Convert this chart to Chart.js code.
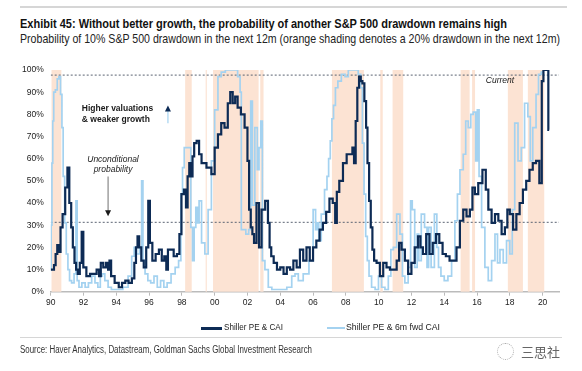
<!DOCTYPE html>
<html>
<head>
<meta charset="utf-8">
<script src="https://cdn.jsdelivr.net/npm/chart.js@4.4.0/dist/chart.umd.min.js"></script>
<style>
  body { margin: 0; background: #fff; width: 582px; height: 371px; position: relative; overflow: hidden;
         font-family: "Liberation Sans", Arial, sans-serif; }
  #wrap { position: absolute; left: 0; top: 0; width: 582px; height: 371px; }
  .fit { position: absolute; white-space: nowrap; transform-origin: 0 50%; line-height: 1; }
  .rule { position: absolute; left: 20px; width: 547px; height: 2px; background: #d6d6d6; }
  .narrow { font-family: "Liberation Sans Narrow", "Arial Narrow", "Liberation Sans", sans-serif; }
  .key { position: absolute; height: 2px; }
</style>
</head>
<body>
<div class="rule" style="top:6px"></div>
<div class="fit narrow" data-w="487" style="left:20px;top:17px;font-size:13px;font-weight:bold;color:#111">Exhibit 45: Without better growth, the probability of another S&amp;P 500 drawdown remains high</div>
<div class="fit narrow" data-w="540" style="left:20px;top:32px;font-size:13px;color:#222">Probability of 10% S&amp;P 500 drawdown in the next 12m (orange shading denotes a 20% drawdown in the next 12m)</div>

<div id="wrap"><canvas id="chart" width="582" height="371"></canvas></div>

<div class="key" style="left:201px;top:327px;width:21px;background:#0d2b55;height:2.5px"></div>
<div class="fit" data-w="59" style="left:224px;top:323px;font-size:8.5px;color:#222">Shiller PE &amp; CAI</div>
<div class="key" style="left:327px;top:327px;width:18px;background:#a4d2f0"></div>
<div class="fit" data-w="94" style="left:346px;top:323px;font-size:8.5px;color:#222">Shiller PE &amp; 6m fwd CAI</div>

<div class="rule" style="top:337px;height:1px;width:542px"></div>
<div class="fit narrow" data-w="292" style="left:20px;top:345px;font-size:10px;color:#333">Source: Haver Analytics, Datastream, Goldman Sachs Global Investment Research</div>
<div style="position:absolute;left:497px;top:343px;width:15px;height:15px;border:1px dotted #aaa;border-radius:50%"></div>
<div style="position:absolute;left:521px;top:342px;font-size:13px;color:#666;font-family:'Noto Sans CJK SC',sans-serif">三思社</div>

<script>
// x axis ticks and y axis ticks
const xTickYears = [1990, 1992, 1994, 1996, 1998, 2000, 2002, 2004, 2006, 2008, 2010, 2012, 2014, 2016, 2018, 2020];
const yTickValues = [0, 10, 20, 30, 40, 50, 60, 70, 80, 90, 100];

// Shiller PE & CAI (dark)
const darkX = [1990.0, 1990.15, 1990.25, 1990.35, 1990.45, 1990.55, 1990.65, 1990.8, 1990.97, 1991.07, 1991.2, 1991.3, 1991.4, 1991.5,
  1991.6, 1991.7, 1991.85, 1991.93, 1992.05, 1992.3, 1992.5, 1992.7, 1992.9, 1993.0, 1993.11, 1993.3, 1993.45, 1993.55, 1993.62,
  1993.75, 1994.05, 1994.25, 1994.45, 1994.65, 1994.85, 1995.05, 1995.15, 1995.25, 1995.34, 1995.45, 1995.6, 1995.75, 1995.9,
  1996.0, 1996.1, 1996.3, 1996.5, 1996.7, 1996.85, 1997.0, 1997.1, 1997.2, 1997.4, 1997.6, 1997.8, 1997.9, 1998.05, 1998.2,
  1998.3, 1998.4, 1998.5, 1998.6, 1998.7, 1998.8, 1999.0, 1999.1, 1999.3, 1999.7, 1999.9, 2000.1, 2000.3, 2000.5, 2000.7,
  2000.9, 2001.0, 2001.2, 2001.3, 2001.5, 2001.7, 2001.95, 2002.05, 2002.15, 2002.25, 2002.35, 2002.45, 2002.65, 2002.76,
  2002.96, 2003.2, 2003.3, 2003.4, 2003.5, 2003.7, 2003.9, 2004.1, 2004.3, 2004.5, 2004.7, 2004.9, 2005.1, 2005.3, 2005.5,
  2005.7, 2005.9, 2006.1, 2006.3, 2006.5, 2006.7, 2006.9, 2007.1, 2007.3, 2007.4, 2007.5, 2007.7, 2007.95, 2008.15, 2008.35,
  2008.45, 2008.55, 2008.65, 2008.75, 2008.86, 2008.96, 2009.06, 2009.2, 2009.27, 2009.37, 2009.47, 2009.57, 2009.67, 2009.78,
  2009.97, 2010.18, 2010.38, 2010.58, 2010.8, 2011.0, 2011.2, 2011.3, 2011.5, 2011.7, 2011.9, 2012.1, 2012.3, 2012.5, 2012.6,
  2012.8, 2013.0, 2013.2, 2013.4, 2013.6, 2013.8, 2014.0, 2014.2, 2014.45, 2014.65, 2014.85, 2015.06, 2015.26, 2015.46,
  2015.67, 2015.77, 2015.97, 2016.18, 2016.48, 2016.59, 2016.79, 2016.99, 2017.2, 2017.4, 2017.6, 2017.8, 2017.9, 2018.1,
  2018.3, 2018.5, 2018.7, 2018.9, 2019.1, 2019.3, 2019.5, 2019.7, 2019.9, 2020.0, 2020.1, 2020.3, 2020.4];
const darkY = [10, 10, 12, 17, 21, 18, 29, 35, 47, 56, 40, 29, 20, 13,
  10, 8, 13, 27, 11, 7, 8, 8, 10, 7, 13, 11, 13, 10, 14,
  7, 4, 2, 4, 5, 4, 6, 13, 20, 25, 20, 14, 11, 20,
  41, 22, 14, 17, 19, 14, 16, 10, 19, 19, 16, 17, 26, 44, 46,
  38, 52, 58, 52, 61, 67, 68, 62, 58, 56, 53, 65, 71, 76, 74,
  85, 90, 85, 88, 83, 80, 74, 59, 37, 29, 26, 22, 40, 20,
  37, 41, 31, 20, 16, 13, 10, 11, 8, 11, 10, 14, 11, 19, 14,
  20, 14, 20, 23, 28, 31, 36, 42, 40, 31, 45, 50, 58, 62, 62,
  65, 58, 77, 92, 97, 95, 94, 86, 74, 58, 41, 29, 19, 14,
  13, 7, 13, 11, 10, 10, 14, 22, 19, 14, 8, 13, 20, 25, 20,
  17, 26, 17, 22, 26, 22, 17, 16, 14, 14, 20, 32, 37, 34,
  37, 47, 44, 49, 55, 46, 37, 31, 35, 32, 26, 29, 37, 35,
  28, 35, 40, 46, 50, 55, 58, 59, 49, 95, 100, 100, 73];

// Shiller PE & 6m fwd CAI (light)
const lightX = [1990.0, 1990.05, 1990.1, 1990.15, 1990.22, 1990.35, 1990.45, 1990.55, 1990.65, 1990.72, 1990.8, 1990.9, 1991.0,
  1991.1, 1991.2, 1991.35, 1991.5, 1991.58, 1991.65, 1991.8, 1992.0, 1992.2, 1992.4, 1992.6, 1992.8, 1992.95, 1993.1, 1993.2,
  1993.4, 1993.6, 1993.8, 1994.2, 1994.6, 1994.84, 1995.04, 1995.14, 1995.34, 1995.5, 1995.59, 1995.66, 1995.85, 1996.0,
  1996.2, 1996.4, 1996.6, 1996.8, 1997.0, 1997.2, 1997.48, 1997.7, 1997.9, 1997.98, 1998.1, 1998.19, 1998.49, 1998.6, 1998.7,
  1998.8, 1998.9, 1999.0, 1999.1, 1999.3, 1999.5, 1999.7, 1999.9, 2000.1, 2000.3, 2000.5, 2000.8, 2001.3, 2001.5, 2001.6,
  2001.65, 2001.8, 2002.0, 2002.15, 2002.25, 2002.35, 2002.55, 2002.65, 2002.76, 2002.86, 2002.96, 2003.17, 2003.37, 2003.6,
  2004.2, 2004.6, 2004.8, 2005.0, 2005.2, 2005.6, 2005.9, 2006.11, 2006.2, 2006.3, 2006.4, 2006.6, 2006.8, 2006.9, 2007.0,
  2007.1, 2007.2, 2007.3, 2007.43, 2007.6, 2007.85, 2008.05, 2008.25, 2008.65, 2008.86, 2008.96, 2009.06, 2009.16, 2009.26,
  2009.36, 2009.47, 2009.67, 2009.9, 2010.08, 2010.28, 2010.49, 2010.69, 2010.8, 2011.0, 2011.2, 2011.4, 2011.5, 2011.7,
  2011.9, 2012.0, 2012.1, 2012.3, 2012.4, 2012.5, 2012.7, 2012.9, 2013.0, 2013.1, 2013.3, 2013.5, 2013.6, 2013.7, 2013.9,
  2014.1, 2014.35, 2014.55, 2014.75, 2014.86, 2015.06, 2015.26, 2015.36, 2015.57, 2015.67, 2015.87, 2015.97, 2016.07,
  2016.18, 2016.38, 2016.58, 2016.79, 2016.99, 2017.2, 2017.3, 2017.5, 2017.7, 2017.9, 2018.1, 2018.2, 2018.4, 2018.6,
  2018.8, 2019.0, 2019.2, 2019.3, 2019.5, 2019.7, 2019.8, 2020.04];
const lightY = [10, 30, 58, 77, 90, 91, 96, 97, 89, 74, 52, 31, 17,
  10, 5, 4, 8, 41, 5, 2, 4, 2, 4, 7, 4, 2, 7, 8,
  5, 2, 1, 1, 2, 7, 16, 20, 17, 20, 50, 14, 8, 5,
  4, 7, 2, 5, 2, 4, 8, 11, 14, 44, 56, 65, 65, 29, 14,
  29, 38, 31, 41, 22, 17, 37, 59, 82, 97, 99, 100, 100, 97, 90,
  28, 28, 26, 28, 86, 39, 74, 55, 65, 77, 14, 10, 2, 1,
  1, 2, 7, 8, 5, 8, 14, 37, 28, 31, 23, 35, 46, 52, 60,
  68, 78, 84, 92, 95, 98, 97, 100, 100, 98, 92, 67, 44, 25,
  14, 7, 2, 1, 7, 2, 1, 7, 19, 20, 35, 26, 7, 4,
  11, 41, 37, 11, 26, 14, 35, 29, 11, 29, 11, 35, 20, 11, 7,
  5, 7, 14, 32, 44, 55, 62, 77, 74, 80, 81, 59, 82,
  52, 29, 11, 5, 14, 26, 13, 19, 13, 23, 17, 37, 76, 59,
  65, 85, 79, 59, 74, 89, 98, 99];

// periods with a 20% drawdown in the next 12m
const bandStart = [1990.05, 1998.2, 1999.45, 1999.9, 2002.78, 2007.15, 2010.1, 2010.85, 2015.0, 2015.7, 2017.88, 2019.1];
const bandEnd = [1990.65, 1998.6, 1999.52, 2002.68, 2002.98, 2009.1, 2010.25, 2011.5, 2015.55, 2015.88, 2018.8, 2020.1];

// reference levels
const currentLevel = 97.7;
const unconditionalLevel = 31.3;

const toPoints = (xs, ys) => xs.map((x, i) => ({ x: x, y: ys[i] }));

const bands = {
  id: 'bands',
  beforeDatasetsDraw(chart) {
    const { ctx, chartArea: a, scales: { x } } = chart;
    ctx.save();
    ctx.fillStyle = '#fce3d3';
    bandStart.forEach((s, i) => {
      const x0 = x.getPixelForValue(s);
      const x1 = x.getPixelForValue(bandEnd[i]);
      ctx.fillRect(x0, a.top, x1 - x0, a.bottom - a.top);
    });
    ctx.restore();
  }
};

function arrow(ctx, x, yFrom, yTo, shaft, head) {
  const dir = yTo > yFrom ? 1 : -1;
  ctx.strokeStyle = shaft;
  ctx.lineWidth = 1.2;
  ctx.beginPath();
  ctx.moveTo(x, yFrom);
  ctx.lineTo(x, yTo - dir * 4);
  ctx.stroke();
  ctx.fillStyle = head;
  ctx.beginPath();
  ctx.moveTo(x, yTo);
  ctx.lineTo(x - 3, yTo - dir * 6);
  ctx.lineTo(x + 3, yTo - dir * 6);
  ctx.closePath();
  ctx.fill();
}

const notes = {
  id: 'notes',
  afterDatasetsDraw(chart) {
    const { ctx, scales: { x, y } } = chart;
    ctx.save();
    ctx.fillStyle = '#1a1a1a';
    ctx.textBaseline = 'middle';
    ctx.font = 'bold 8.5px "Liberation Sans", Arial, sans-serif';
    ctx.textAlign = 'left';
    ctx.fillText('Higher valuations', x.getPixelForValue(1991.9), y.getPixelForValue(82.4));
    ctx.fillText('& weaker growth', x.getPixelForValue(1991.9), y.getPixelForValue(77.4));
    ctx.font = 'italic 8.5px "Liberation Sans", Arial, sans-serif';
    ctx.textAlign = 'center';
    ctx.fillText('Unconditional', x.getPixelForValue(1993.8), y.getPixelForValue(59.4));
    ctx.fillText('probability', x.getPixelForValue(1993.8), y.getPixelForValue(54.9));
    ctx.fillText('Current', x.getPixelForValue(2017.4), y.getPixelForValue(95));
    arrow(ctx, x.getPixelForValue(1997.15), y.getPixelForValue(76), y.getPixelForValue(84), '#a4d2f0', '#0d2b55');
    arrow(ctx, x.getPixelForValue(1993.5), y.getPixelForValue(52), y.getPixelForValue(34), '#888', '#1a1a1a');
    ctx.restore();
  }
};

new Chart(document.getElementById('chart'), {
  type: 'line',
  data: {
    datasets: [
      { label: 'Shiller PE & CAI', data: toPoints(darkX, darkY), borderColor: '#0d2b55', borderWidth: 2.2,
        pointRadius: 0, stepped: 'middle', fill: false },
      { label: 'Shiller PE & 6m fwd CAI', data: toPoints(lightX, lightY), borderColor: '#a4d2f0', borderWidth: 1.7,
        pointRadius: 0, stepped: 'middle', fill: false },
      { label: 'current', data: [{ x: 1990, y: currentLevel }, { x: 2021, y: currentLevel }], borderColor: '#5b6372',
        borderWidth: 1, borderDash: [2, 2], pointRadius: 0 },
      { label: 'unconditional', data: [{ x: 1990, y: unconditionalLevel }, { x: 2021, y: unconditionalLevel }],
        borderColor: '#5b6372', borderWidth: 1, borderDash: [2, 2], pointRadius: 0 }
    ]
  },
  options: {
    responsive: false,
    animation: false,
    maintainAspectRatio: false,
    layout: { padding: { left: 0, top: 70, right: 23, bottom: 59.3 } },
    plugins: { legend: { display: false }, tooltip: { enabled: false } },
    scales: {
      x: {
        type: 'linear', min: 1990, max: 2021,
        afterBuildTicks: (s) => { s.ticks = xTickYears.map(v => ({ value: v })); },
        afterFit: (s) => { s.height = 20; },
        grid: { drawOnChartArea: false, drawTicks: true, tickLength: 4, color: '#bbb' },
        border: { display: true, color: '#bbb', width: 1.5 },
        ticks: { padding: 2, color: '#222', maxRotation: 0, autoSkip: false,
          font: { size: 8.5, family: '"Liberation Sans", Arial, sans-serif' },
          callback: (v) => String(v % 100).padStart(2, '0') }
      },
      y: {
        min: 0, max: 100,
        afterBuildTicks: (s) => { s.ticks = yTickValues.map(v => ({ value: v })); },
        afterFit: (s) => { s.width = 50.7; },
        grid: { display: false, drawTicks: false },
        border: { display: false },
        ticks: { padding: 7, color: '#222', font: { size: 8.5, family: '"Liberation Sans", Arial, sans-serif' },
          callback: (v) => v + '%' }
      }
    }
  },
  plugins: [bands, notes]
});

// squeeze header, legend and source text to the widths they take in the exhibit
document.querySelectorAll('.fit').forEach(el => {
  const w = el.getBoundingClientRect().width;
  el.style.transform = 'scaleX(' + (el.dataset.w / w) + ')';
});
</script>
</body>
</html>
